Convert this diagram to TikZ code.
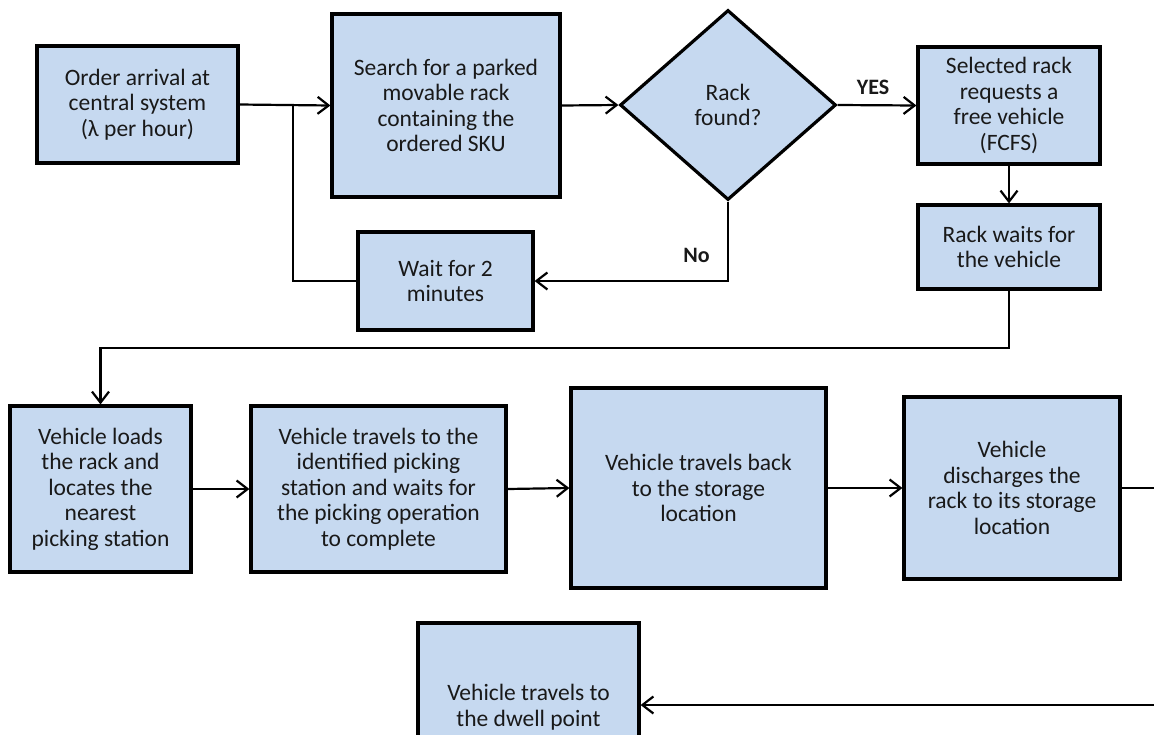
\documentclass[tikz,border=0pt]{standalone}
\usepackage{fontspec}
\setmainfont{Carlito}
\usetikzlibrary{arrows.meta,shapes.geometric}
\definecolor{boxfill}{HTML}{C6D9F0}
\begin{document}
\begin{tikzpicture}[x=1pt,y=-1pt,
  every node/.style={font=\fontsize{23.5}{25.5}\selectfont, text=black!90},
  pbox/.style={draw=black, line width=3.2pt, fill=boxfill, align=center, inner sep=0pt},
  dec/.style={draw=black, line width=3.2pt, fill=boxfill, align=center, shape=diamond, aspect=1, inner sep=0pt},
  conn/.style={line width=2.2pt, draw=black},
  arr/.style={conn, -{Straight Barb[length=11pt,width=17pt,line width=2.2pt]}},
  lbl/.style={font=\fontsize{22}{24}\selectfont\bfseries}
]
\useasboundingbox (0,0) rectangle (1154,734);
\clip (0,0) rectangle (1154,734);

\node[pbox, minimum width=201pt, minimum height=117pt] (order) at (137.5,104.5) {Order arrival at\\central system\\(λ per hour)};
\node[pbox, minimum width=228pt, minimum height=183pt] (search) at (446,105.5) {Search for a parked\\movable rack\\containing the\\ordered SKU};
\node[dec, minimum width=216pt, minimum height=190pt] (found) at (728,105) {Rack\\found?};
\node[pbox, minimum width=182pt, minimum height=117pt] (select) at (1009,105.5) {Selected rack\\requests a\\free vehicle\\(FCFS)};
\node[pbox, minimum width=182pt, minimum height=84pt] (waitv) at (1009,247) {Rack waits for\\the vehicle};
\node[pbox, minimum width=175pt, minimum height=98pt] (wait2) at (445.5,281) {Wait for 2\\minutes};

\node[pbox, minimum width=181pt, minimum height=166pt] (load) at (100.5,489) {Vehicle loads\\the rack and\\locates the\\nearest\\picking station};
\node[pbox, minimum width=255pt, minimum height=166pt] (travel) at (378.5,489) {Vehicle travels to the\\identified picking\\station and waits for\\the picking operation\\to complete};
\node[pbox, minimum width=255pt, minimum height=200pt] (back) at (698.5,488) {Vehicle travels back\\to the storage\\location};
\node[pbox, minimum width=216pt, minimum height=182pt] (disch) at (1012,488) {Vehicle\\discharges the\\rack to its storage\\location};
\node[pbox, minimum width=221pt, minimum height=168pt] (dwell) at (528.5,707) {Vehicle travels to\\the dwell point};

\coordinate (j1) at (293,105);
\coordinate (rightA) at (1160,488);
\coordinate (rightB) at (1160,705);

\draw[arr] (order.east) -- (search.west);
\draw[arr] (search.east) -- (found.west);
\draw[arr] (found.east) -- node[lbl, above=6pt, pos=0.45] (yes) {YES} (select.west);
\draw[arr] (select.south) -- (waitv.north);
\draw[arr] (found.south) |- node[lbl, pos=0.34, left=14pt] (no) {No} (wait2.east);
\draw[conn] (wait2.west) -| (j1);
\draw[arr] (waitv.south) -- ++(0,57) -| (load.north);
\draw[arr] (load.east) -- (travel.west);
\draw[arr] (travel.east) -- (back.west);
\draw[arr] (back.east) -- (disch.west);
\draw[conn] (disch.east) -- (rightA);
\draw[arr] (rightB) -- (dwell.east |- rightB);
\end{tikzpicture}
\end{document}
